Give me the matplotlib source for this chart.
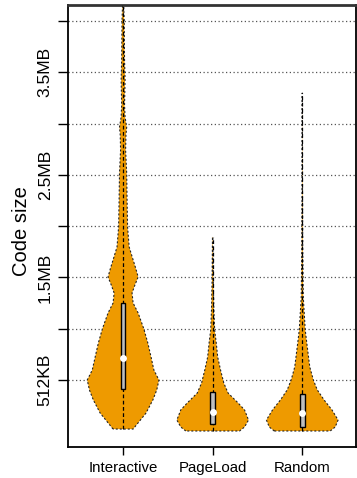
import numpy as np
import matplotlib
matplotlib.use("Agg")
import matplotlib.pyplot as plt

plt.rcParams['font.family'] = ['Liberation Sans', 'DejaVu Sans']

# ---- data (values in MB, density normalised to max 1) ----
categories = ["Interactive", "PageLoad", "Random"]

inter_y = [0.022, 0.178, 0.305, 0.403, 0.5, 0.597, 0.724, 0.861, 0.997, 1.153,
           1.25, 1.348, 1.426, 1.504, 1.592, 1.67, 1.796, 1.991, 2.284, 2.518,
           2.742, 2.888, 2.966, 3.063, 3.18, 3.424, 3.619, 4.009, 4.155, 4.3]
inter_d = [0.28, 0.64, 0.83, 0.94, 1.0, 0.86, 0.78, 0.69, 0.58, 0.42,
           0.28, 0.25, 0.33, 0.42, 0.35, 0.28, 0.17, 0.125, 0.11, 0.10,
           0.07, 0.08, 0.10, 0.055, 0.04, 0.055, 0.04, 0.03, 0.015, 0.0]

page_y = [0.003, 0.042, 0.110, 0.208, 0.276, 0.373, 0.471, 0.597, 0.724, 0.861,
          0.987, 1.182, 1.475, 1.894]
page_d = [0.75, 0.89, 1.0, 0.89, 0.71, 0.43, 0.31, 0.22, 0.14, 0.10,
          0.055, 0.033, 0.017, 0.005]

rand_y = [0.003, 0.042, 0.110, 0.208, 0.305, 0.403, 0.5, 0.627, 0.822, 0.987,
          1.153, 1.309, 1.767, 2.449, 3.297]
rand_d = [0.78, 0.92, 1.0, 0.83, 0.61, 0.42, 0.31, 0.21, 0.14, 0.083,
          0.055, 0.028, 0.014, 0.006, 0.0]

q1 = [0.412, 0.071, 0.042]
q3 = [1.25, 0.383, 0.364]
medians = [0.714, 0.188, 0.178]
mins = [0.022, 0.003, 0.003]
maxs = [4.3, 1.894, 3.297]

ytick_vals = [0.5, 1.0, 1.5, 2.0, 2.5, 3.0, 3.5, 4.0]
ytick_labels = ["512KB", "", "1.5MB", "", "2.5MB", "", "3.5MB", ""]

profiles = [(inter_y, inter_d), (page_y, page_d), (rand_y, rand_d)]

# ---- figure ----
W, H = 357, 478
fig = plt.figure(figsize=(W / 100, H / 100), dpi=100)
ax = fig.add_axes([68 / W, 31 / H, (356 - 68) / W, (447 - 5) / H])

ax.set_xlim(0.385, 3.6)
ax.set_ylim(-0.153, 4.155)

for yv in ytick_vals:
    ax.axhline(yv, color="#555555", lw=0.9, ls=(0, (1, 2)), zorder=0.5)

fill = "#EE9A00"
hmax = 0.40
for i, (ys, ds) in enumerate(profiles):
    pos = i + 1
    ys = np.array(ys)
    ds = np.array(ds) * hmax
    ax.fill_betweenx(ys, pos - ds, pos + ds, facecolor=fill, edgecolor="none", zorder=2)
    xs = np.concatenate([pos - ds, (pos + ds)[::-1], [pos - ds[0]]])
    yy = np.concatenate([ys, ys[::-1], [ys[0]]])
    ax.plot(xs, yy, color="#222222", lw=0.8, ls=(0, (1.8, 1.8)), zorder=3)
    ax.plot([pos, pos], [mins[i], maxs[i]], color="black", lw=0.9, ls=(0, (3, 2)), zorder=4)
    bw = 0.026
    ax.add_patch(plt.Rectangle((pos - bw, q1[i]), 2 * bw, q3[i] - q1[i],
                               facecolor="#BEBEBE", edgecolor="black", lw=1.0, zorder=5))
    ax.plot([pos], [medians[i]], "o", color="white", ms=5, mec="none", zorder=6)

ax.set_xticks([1, 2, 3])
ax.set_xticklabels(categories, fontsize=10.8)
ax.set_yticks(ytick_vals)
ax.set_yticklabels(ytick_labels, fontsize=12.6, rotation=90, va="center")
ax.tick_params(axis="x", length=6, width=1, pad=4)
ax.tick_params(axis="y", length=7, width=1, pad=4)

for s in ["left", "bottom", "right"]:
    ax.spines[s].set_linewidth(1.3)
    ax.spines[s].set_color("black")
ax.spines["top"].set_linewidth(2)
ax.spines["top"].set_color("#333333")

fig.text(22 / W, 1 - 231 / H, "Code size", rotation=90, fontsize=14.5,
         ha="center", va="center")

fig.savefig("out.png", dpi=100)
